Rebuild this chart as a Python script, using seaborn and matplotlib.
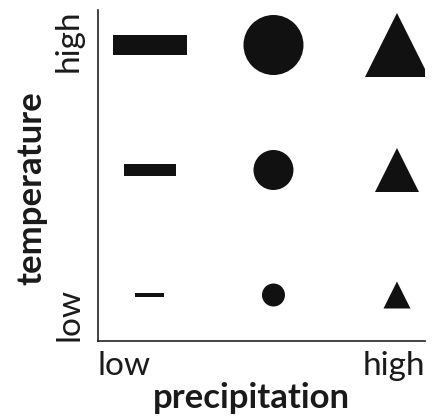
"""Symbol chart: shape by precipitation, size by temperature."""

import matplotlib
matplotlib.use("Agg")
import pandas as pd
import matplotlib.pyplot as plt
import matplotlib.transforms as mtransforms
from matplotlib.path import Path
import seaborn as sns

PRECIP_LEVELS = ["low", "medium", "high"]
TEMP_LEVELS = ["low", "medium", "high"]
SHAPES = ["bar", "circle", "triangle"]  # one shape per precipitation level
AXIS_TICKS = ["low", "high"]

# symbol widths in pixels, per shape, per temperature level (low -> high)
SYMBOL_WIDTH = {
    "bar": [29, 52, 74],
    "circle": [23, 40, 60],
    "triangle": [27, 44, 64],
}
BAR_ASPECT = [0.17, 0.23, 0.27]  # height / width of the bars
INK = "#111111"


def bar_marker(aspect):
    h = aspect
    verts = [(-1, -h), (1, -h), (1, h), (-1, h), (-1, -h)]
    codes = [Path.MOVETO, Path.LINETO, Path.LINETO, Path.LINETO, Path.CLOSEPOLY]
    return Path(verts, codes)


def build_frame():
    rows = []
    for i, p in enumerate(PRECIP_LEVELS):
        for j, t in enumerate(TEMP_LEVELS):
            rows.append({"precip": p, "temp": t, "x": i + 1, "y": j + 1, "shape": SHAPES[i]})
    return pd.DataFrame(rows)


def main():
    sns.set_theme(style="white")
    plt.rcParams["font.family"] = ["Lato", "DejaVu Sans"]

    df = build_frame()
    fig = plt.figure(figsize=(4.32, 4.19), dpi=100)
    ax = fig.add_axes([98 / 432, 78 / 419, 327 / 432, 331 / 419])

    px_to_pt = 0.72
    for shape in SHAPES:
        sub = df[df["shape"] == shape]
        if shape == "bar":
            markers = {t: bar_marker(a) for t, a in zip(TEMP_LEVELS, BAR_ASPECT)}
        elif shape == "circle":
            markers = {t: "o" for t in TEMP_LEVELS}
        else:
            markers = {t: "^" for t in TEMP_LEVELS}
        sizes = {t: (w * px_to_pt) ** 2 for t, w in zip(TEMP_LEVELS, SYMBOL_WIDTH[shape])}
        sns.scatterplot(data=sub, x="x", y="y", style="temp", markers=markers,
                        size="temp", sizes=sizes, color=INK, linewidth=0,
                        legend=False, ax=ax)

    xlim = (0.579, 3.227)
    ylim = (0.632, 3.28)
    ax.set_xlim(*xlim)
    ax.set_ylim(*ylim)

    ax.set_xticks(list(xlim), labels=AXIS_TICKS, fontsize=24, color="#1a1a1a")
    ax.set_yticks(list(ylim), labels=AXIS_TICKS, fontsize=24, color="#1a1a1a", rotation=90)
    xl = ax.get_xticklabels()
    xl[0].set_ha("left")
    xl[1].set_ha("right")
    yl = ax.get_yticklabels()
    yl[0].set_va("bottom")
    yl[1].set_va("top")
    # nudge the vertical labels down a little, as in the original
    for lab, dy in zip(yl, (-4, -9)):
        lab.set_transform(lab.get_transform()
                          + mtransforms.ScaledTranslation(0, dy / 100, fig.dpi_scale_trans))
    ax.tick_params(axis="x", length=0, pad=7)
    ax.tick_params(axis="y", length=0, pad=10)

    ax.set_xlabel("precipitation", fontsize=25, fontweight="bold", color="#1a1a1a")
    ax.set_ylabel("temperature", fontsize=25, fontweight="bold", color="#1a1a1a")
    ax.xaxis.set_label_coords(0.469, -0.124)
    ax.yaxis.set_label_coords(-0.156, 0.462)

    sns.despine(ax=ax)
    for side in ("left", "bottom"):
        ax.spines[side].set_color("#222222")
        ax.spines[side].set_linewidth(1.2)

    fig.savefig("out.png", dpi=100)
    plt.close(fig)


if __name__ == "__main__":
    main()
